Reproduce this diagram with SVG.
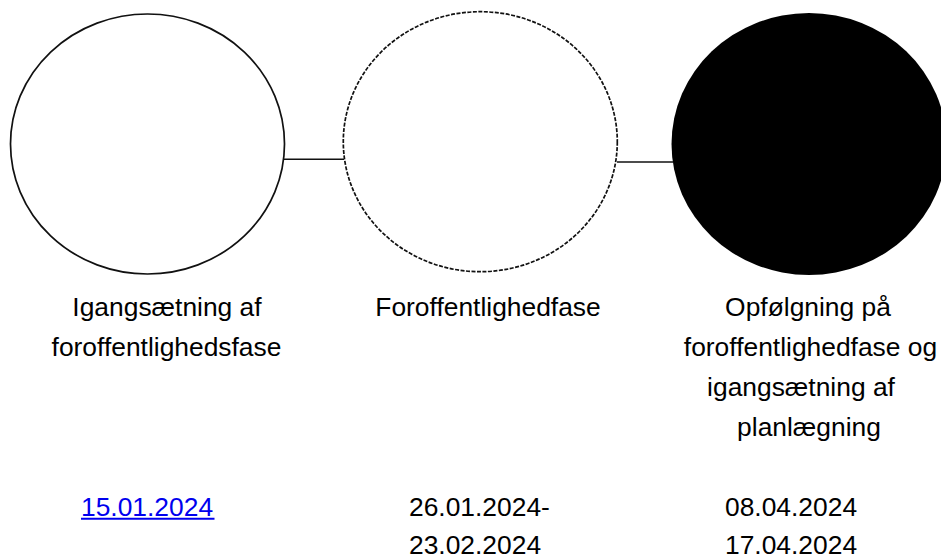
<svg xmlns="http://www.w3.org/2000/svg" width="941" height="558" viewBox="0 0 941 558">
<style>
text{font-family:"Liberation Sans",Arial,sans-serif;font-size:26.4px;fill:#000}
.c{text-anchor:middle}
.node{stroke:#111;stroke-width:1.7;fill:#fff}
.conn{stroke:#111;stroke-width:1.6;fill:none}
.link{fill:#0000EE}
</style>
<rect width="941" height="558" fill="#fff"/>
<g id="connectors">
<line class="conn" x1="284" y1="159.3" x2="344" y2="159.3"/>
<line class="conn" x1="617" y1="162" x2="673" y2="162"/>
</g>
<g id="node1">
<ellipse class="node" cx="147.5" cy="144" rx="137" ry="130"/>
<text class="c" x="167" y="316">Igangsætning af</text>
<text class="c" x="166.5" y="356">foroffentlighedsfase</text>
<text class="link" x="81" y="516">15.01.2024</text>
<line x1="81" y1="518.7" x2="214.5" y2="518.7" stroke="#0000EE" stroke-width="2"/>
</g>
<g id="node2">
<ellipse class="node" cx="480.3" cy="141.7" rx="137" ry="130" stroke-dasharray="4 1.5" stroke="#222"/>
<text class="c" x="488" y="316">Foroffentlighedfase</text>
<text x="409" y="516">26.01.2024-</text>
<text x="409" y="553.5">23.02.2024</text>
</g>
<g id="node3">
<ellipse cx="809" cy="144" rx="137.5" ry="131" fill="#000"/>
<text class="c" x="808" y="316">Opfølgning på</text>
<text class="c" x="810.5" y="356">foroffentlighedfase og</text>
<text class="c" x="801" y="396">igangsætning af</text>
<text class="c" x="809" y="436">planlægning</text>
<text x="725" y="516">08.04.2024</text>
<text x="725" y="553.5">17.04.2024</text>
</g>
</svg>
